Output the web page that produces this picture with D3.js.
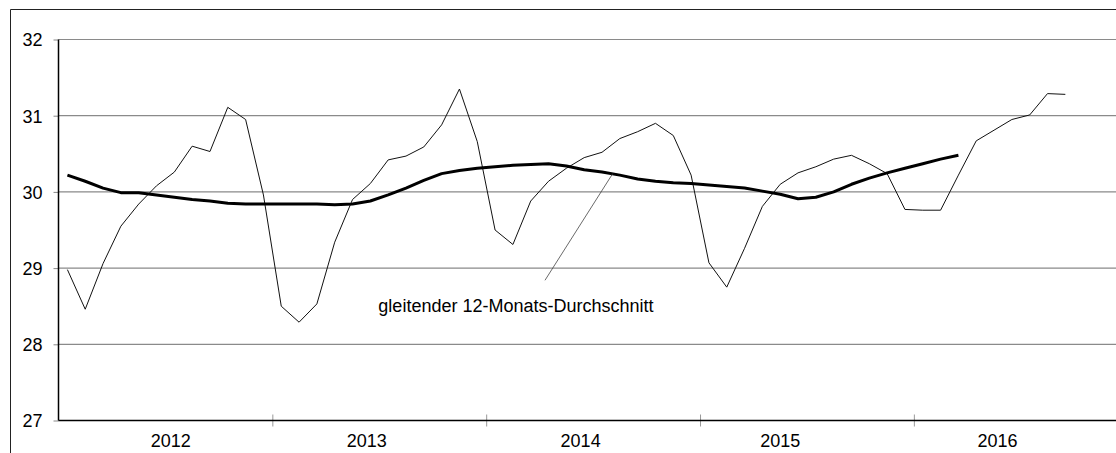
<!DOCTYPE html>
<html>
<head>
<meta charset="utf-8">
<script src="https://cdn.jsdelivr.net/npm/d3@7"></script>
<style>
  body { margin: 0; background: #fff; }
  svg text { font-family: "Liberation Sans", Arial, sans-serif; fill: #000; }
</style>
</head>
<body>
<div id="chart"></div>
<script>
// monthly values Jan 2012 .. Sep 2016
var monthly = [
    28.98, 28.46, 29.06, 29.55, 29.84, 30.08, 30.26, 30.60, 30.53, 31.11, 30.95, 29.96,
    28.50, 28.29, 28.53, 29.34, 29.90, 30.11, 30.42, 30.47, 30.59, 30.88, 31.35, 30.66,
    29.50, 29.31, 29.88, 30.14, 30.31, 30.45, 30.52, 30.70, 30.79, 30.90, 30.74, 30.22,
    29.07, 28.75, 29.26, 29.81, 30.10, 30.25, 30.33, 30.43, 30.48, 30.37, 30.24, 29.77,
    29.76, 29.76, 30.22, 30.67, 30.81, 30.95, 31.01, 31.29, 31.28
];

// gleitender 12-Monats-Durchschnitt, Jan 2012 .. Mar 2016
var movingAvg = [
    30.22, 30.14, 30.05, 29.99, 29.99, 29.96, 29.93, 29.90, 29.88, 29.85, 29.84, 29.84,
    29.84, 29.84, 29.84, 29.83, 29.84, 29.88, 29.96, 30.05, 30.15, 30.24, 30.28, 30.31,
    30.33, 30.35, 30.36, 30.37, 30.34, 30.29, 30.26, 30.22, 30.17, 30.14, 30.12, 30.11,
    30.09, 30.07, 30.05, 30.01, 29.97, 29.91, 29.93, 30.00, 30.10, 30.18, 30.25, 30.31,
    30.37, 30.43, 30.48
];

var years = ["2012", "2013", "2014", "2015", "2016"];
var yearLabelAt = [6.3, 17.3, 29.3, 40.5, 52.7];   // month where each year label sits
var yTicks = [27, 28, 29, 30, 31, 32];
var annotationText = "gleitender 12-Monats-Durchschnitt";

var
    width = 1116,
    height = 453,
    margin = { top: 39.5, left: 58.5, bottom: 32.5 },
    monthWidth = 17.82;

var svg = d3.select("#chart").append("svg")
    .attr("width", width)
    .attr("height", height);

var xScale = d3.scaleLinear()
    .domain([0, 60])
    .range([margin.left, margin.left + 60 * monthWidth]);

var yScale = d3.scaleLinear()
    .domain([27, 32])
    .range([height - margin.bottom, margin.top]);

function X(d, i) { return xScale(i + 0.5); }
function Y(d) { return yScale(d); }

// outer frame (only top and left edges are in view)
svg.append("path")
    .attr("d", "M10.5," + height + "V9.5H" + width)
    .attr("fill", "none")
    .attr("stroke", "#222")
    .attr("stroke-width", 1);

// gridlines + y axis
var yAxis = d3.axisLeft(yScale)
    .tickValues(yTicks)
    .tickSize(5)
    .tickPadding(11)
    .tickFormat(d3.format("d"));

var gy = svg.append("g")
    .attr("class", "y axis")
    .attr("transform", "translate(" + margin.left + ",0)")
    .call(yAxis);

gy.select(".domain").remove();
gy.selectAll(".tick line").attr("stroke", "#888");
gy.selectAll(".tick text")
    .style("font-size", "18px")
    .attr("dy", "0.35em");

svg.append("g")
    .attr("class", "grid")
    .selectAll("line")
    .data(yTicks.filter(function (d) { return d > 27; }))
    .enter().append("line")
    .attr("x1", margin.left)
    .attr("x2", width)
    .attr("y1", Y)
    .attr("y2", Y)
    .attr("stroke", "#8a8a8a")
    .attr("stroke-width", 1.2);

// x axis with year boundary ticks
var gx = svg.append("g")
    .attr("class", "x axis")
    .attr("transform", "translate(0," + yScale(27) + ")")
    .call(d3.axisBottom(xScale)
        .tickValues([12, 24, 36, 48])
        .tickSizeInner(6)
        .tickSizeOuter(0)
        .tickFormat(""));

gx.select(".domain").remove();
gx.selectAll(".tick line")
    .attr("y1", -6)
    .attr("y2", 6)
    .attr("stroke", "#999");

svg.append("line")
    .attr("x1", margin.left)
    .attr("x2", width)
    .attr("y1", yScale(27))
    .attr("y2", yScale(27))
    .attr("stroke", "#000")
    .attr("stroke-width", 1.5);

svg.append("line")
    .attr("x1", margin.left)
    .attr("x2", margin.left)
    .attr("y1", yScale(32))
    .attr("y2", yScale(27))
    .attr("stroke", "#000")
    .attr("stroke-width", 1.5);

svg.append("g")
    .selectAll("text")
    .data(years)
    .enter().append("text")
    .attr("x", function (d, i) { return xScale(yearLabelAt[i]); })
    .attr("y", yScale(27) + 26)
    .attr("text-anchor", "middle")
    .style("font-size", "18px")
    .text(function (d) { return d; });

// lines
var line = d3.line().x(X).y(Y);

svg.append("path")
    .datum(monthly)
    .attr("d", line)
    .attr("fill", "none")
    .attr("stroke", "#111")
    .attr("stroke-width", 1);

svg.append("path")
    .datum(movingAvg)
    .attr("d", line)
    .attr("fill", "none")
    .attr("stroke", "#000")
    .attr("stroke-width", 3)
    .attr("stroke-linejoin", "round");

// annotation with leader line
svg.append("line")
    .attr("x1", xScale(27.3))
    .attr("y1", yScale(28.84))
    .attr("x2", xScale(31.1))
    .attr("y2", yScale(30.24))
    .attr("stroke", "#444")
    .attr("stroke-width", 0.8);

svg.append("text")
    .attr("x", xScale(17.95))
    .attr("y", yScale(28.42))
    .style("font-size", "18px")
    .text(annotationText);
</script>
</body>
</html>
